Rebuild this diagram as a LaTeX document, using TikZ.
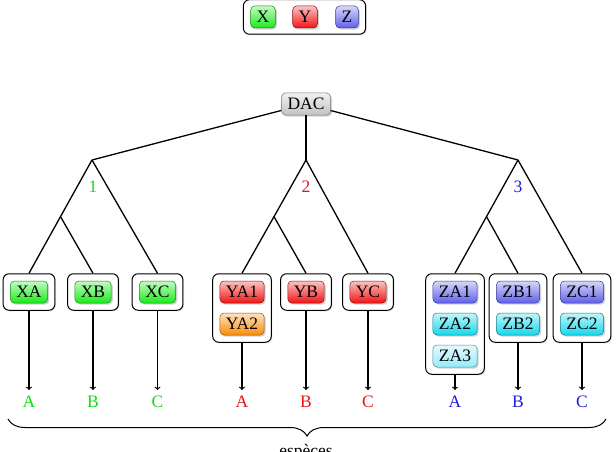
\documentclass[tikz,border=0pt]{standalone}
\usepackage{fontspec}
\setmainfont{Liberation Serif}
\usetikzlibrary{shadows,fit,backgrounds,decorations.pathreplacing,calc}
\definecolor{cgreen}{RGB}{25,235,25}
\definecolor{cred}{RGB}{240,20,20}
\definecolor{cblue}{RGB}{95,95,235}
\definecolor{corange}{RGB}{250,140,10}
\definecolor{ccyan}{RGB}{20,215,235}
\definecolor{clcyan}{RGB}{150,235,250}
\definecolor{cgray}{RGB}{195,195,195}
\definecolor{tgreen}{RGB}{20,220,20}
\definecolor{tred}{RGB}{230,20,20}
\definecolor{tblue}{RGB}{30,30,220}
\begin{document}
\begin{tikzpicture}[x=1pt,y=-1pt,
  font=\fontsize{17.5}{20}\selectfont,
  inbox/.style={rounded corners=4pt, draw=#1!60!black, line width=0.5pt,
    top color=#1!25!white, bottom color=#1, minimum height=22pt,
    inner xsep=6pt, inner ysep=2pt,
    drop shadow={shadow xshift=1.6pt, shadow yshift=-1.6pt, opacity=0.35}},
  outbox/.style={rounded corners=6pt, draw=black, line width=1pt, fill=white,
    inner sep=7pt,
    drop shadow={shadow xshift=1.2pt, shadow yshift=-1.2pt, opacity=0.2}},
  tree/.style={line width=1.3pt, black},
  arr/.style={line width=1.2pt, ->, shorten >=12pt},
  lab/.style={inner sep=0pt, text=#1},
]
\useasboundingbox (0,0) rectangle (616,452);

% legend
\node[inbox=cgreen] (LX) at (263,17) {X};
\node[inbox=cred] (LY) at (305,17) {Y};
\node[inbox=cblue] (LZ) at (347,17) {Z};

% root
\node[inbox=cgray] (DAC) at (306,104) {DAC};

% leaves
\node[inbox=cgreen] (XA) at (29,292) {XA};
\node[inbox=cgreen] (XB) at (93,292) {XB};
\node[inbox=cgreen] (XC) at (157.5,292) {XC};
\node[inbox=cred] (YA1) at (242,292) {YA1};
\node[inbox=corange] (YA2) at (242,324) {YA2};
\node[inbox=cred] (YB) at (306,292) {YB};
\node[inbox=cred] (YC) at (368,292) {YC};
\node[inbox=cblue] (ZA1) at (455,292) {ZA1};
\node[inbox=ccyan] (ZA2) at (455,324) {ZA2};
\node[inbox=clcyan] (ZA3) at (455,356) {ZA3};
\node[inbox=cblue] (ZB1) at (518,292) {ZB1};
\node[inbox=ccyan] (ZB2) at (518,324) {ZB2};
\node[inbox=cblue] (ZC1) at (582,292) {ZC1};
\node[inbox=ccyan] (ZC2) at (582,324) {ZC2};

\begin{scope}[on background layer]
  \node[outbox, inner xsep=7pt, inner ysep=6pt, fit=(LX)(LZ)] (LEG) {};
  \node[outbox, fit=(XA)] (XAb) {};
  \node[outbox, fit=(XB)] (XBb) {};
  \node[outbox, fit=(XC)] (XCb) {};
  \node[outbox, fit=(YA1)(YA2)] (YAb) {};
  \node[outbox, fit=(YB)] (YBb) {};
  \node[outbox, fit=(YC)] (YCb) {};
  \node[outbox, fit=(ZA1)(ZA3)] (ZAb) {};
  \node[outbox, fit=(ZB1)(ZB2)] (ZBb) {};
  \node[outbox, fit=(ZC1)(ZC2)] (ZCb) {};
\end{scope}

% branch points
\coordinate (b1) at (92,160);
\coordinate (b2) at (306,160);
\coordinate (b3) at (518,160);
\coordinate (m1) at ($(b1)!0.5!(XAb.north)$);
\coordinate (m2) at ($(b2)!0.5!(YAb.north)$);
\coordinate (m3) at ($(b3)!0.5!(ZAb.north)$);

\draw[tree] (DAC) -- (b1);
\draw[tree] (DAC) -- (b2);
\draw[tree] (DAC) -- (b3);
\draw[tree] (b1) -- (XAb.north);
\draw[tree] (m1) -- (XBb.north);
\draw[tree] (b1) -- (XCb.north);
\draw[tree] (b2) -- (YAb.north);
\draw[tree] (m2) -- (YBb.north);
\draw[tree] (b2) -- (YCb.north);
\draw[tree] (b3) -- (ZAb.north);
\draw[tree] (m3) -- (ZBb.north);
\draw[tree] (b3) -- (ZCb.north);

\node[lab=tgreen] (n1) at (93,187) {1};
\node[lab=tred] (n2) at (306,187) {2};
\node[lab=tblue] (n3) at (518,187) {3};

% species labels
\node[lab=tgreen] (sXA) at (29,402) {A};
\node[lab=tgreen] (sXB) at (93,402) {B};
\node[lab=tgreen] (sXC) at (157.5,402) {C};
\node[lab=tred] (sYA) at (242,402) {A};
\node[lab=tred] (sYB) at (306,402) {B};
\node[lab=tred] (sYC) at (368,402) {C};
\node[lab=tblue] (sZA) at (455,402) {A};
\node[lab=tblue] (sZB) at (518,402) {B};
\node[lab=tblue] (sZC) at (582,402) {C};

\draw[arr] (XAb.south) -- (sXA.center);
\draw[arr] (XBb.south) -- (sXB.center);
\draw[arr] (XCb.south) -- (sXC.center);
\draw[arr] (YAb.south) -- (sYA.center);
\draw[arr] (YBb.south) -- (sYB.center);
\draw[arr] (YCb.south) -- (sYC.center);
\draw[arr] (ZAb.south) -- (sZA.center);
\draw[arr] (ZBb.south) -- (sZB.center);
\draw[arr] (ZCb.south) -- (sZC.center);

% brace
\coordinate (br1) at (8,419);
\coordinate (br2) at (606,419);
\draw[line width=1pt, decorate, decoration={brace, mirror, amplitude=17pt}] (br1) -- (br2);
\node[anchor=base, inner sep=0pt] (esp) at (306,456) {espèces};
\end{tikzpicture}
\end{document}
